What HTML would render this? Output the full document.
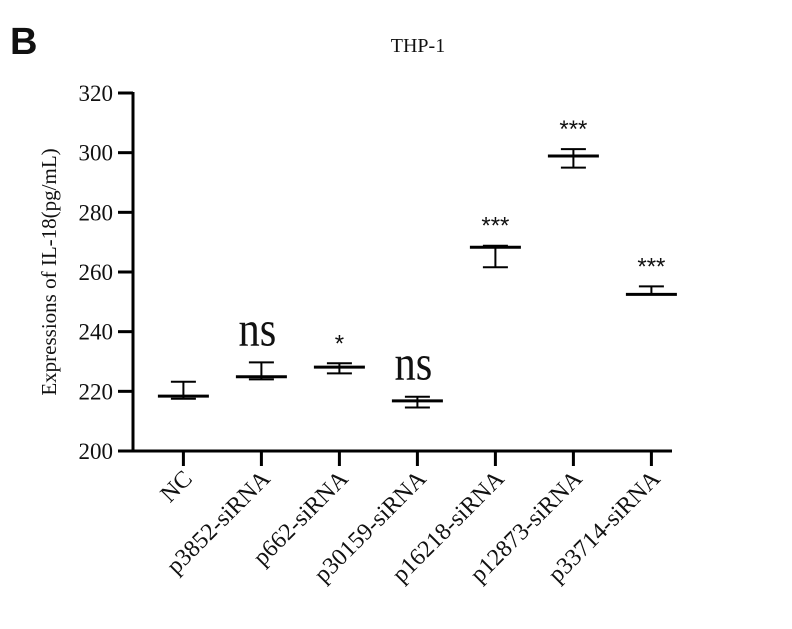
<!DOCTYPE html>
<html><head><meta charset="utf-8"><style>
body{margin:0;background:#fff;}
svg text{font-family:"Liberation Serif",serif;fill:#111;}
</style></head><body>
<svg width="792" height="624" viewBox="0 0 792 624">
<text x="10" y="54" style="font-family:'Liberation Sans',sans-serif;font-weight:bold;font-size:38px">B</text>
<text x="418" y="52" text-anchor="middle" font-size="20">THP-1</text>
<text transform="translate(56,272) rotate(-90)" text-anchor="middle" font-size="21">Expressions of IL-18(pg/mL)</text>
<g id="axes"></g>
<g id="marks"></g>
</svg>
<script>
const categories=["NC","p3852-siRNA","p662-siRNA","p30159-siRNA","p16218-siRNA","p12873-siRNA","p33714-siRNA"];
const means=[218.4,224.9,228.1,216.8,268.3,298.9,252.5];
const upper=[223.2,229.7,229.4,218.2,268.8,301.2,255.2];
const lower=[217.5,224.0,226.0,214.6,261.6,295.0,252.5];
const sig=["","ns","*","ns","***","***","***"];
const yTicks=[200,220,240,260,280,300,320];
const NS="http://www.w3.org/2000/svg";
const x0=133,xEnd=672,yMin=200,yMax=320,yBot=451,yTop=93;
function y(v){return yBot-(v-yMin)/(yMax-yMin)*(yBot-yTop);}
function x(i){return 183.4+i*78;}
function el(t,a,p){const e=document.createElementNS(NS,t);for(const k in a)e.setAttribute(k,a[k]);p.appendChild(e);return e;}
const ax=document.getElementById('axes'),mk=document.getElementById('marks');
const ya=el('line',{x1:x0,y1:yTop-1,x2:x0,y2:yBot+1.5,stroke:'#000','stroke-width':3},ax);


const xa=el('line',{x1:x0-1.5,y1:yBot,x2:xEnd,y2:yBot,stroke:'#000','stroke-width':3},ax);


yTicks.forEach(v=>{
  const t=el('line',{x1:118,y1:y(v),x2:x0,y2:y(v),stroke:'#000','stroke-width':3},ax);
  
  
  const l=el('text',{x:113,y:y(v)+8,'text-anchor':'end','font-size':23},ax);
  l.textContent=v;
  
  
});
categories.forEach((c,i)=>{
  const cx=x(i);
  const t=el('line',{x1:cx,y1:yBot,x2:cx,y2:466,stroke:'#000','stroke-width':3},ax);
  
  
  const l=el('text',{transform:`translate(${cx+10},${480}) rotate(-45)`,'text-anchor':'end','font-size':24},ax);
  l.textContent=c;
  
  
  const g=el('g',{},mk);
  
  
  el('line',{x1:cx,y1:y(upper[i]),x2:cx,y2:y(lower[i]),stroke:'#000','stroke-width':2},g);
  el('line',{x1:cx-12.5,y1:y(upper[i]),x2:cx+12.5,y2:y(upper[i]),stroke:'#000','stroke-width':2},g);
  el('line',{x1:cx-12.5,y1:y(lower[i]),x2:cx+12.5,y2:y(lower[i]),stroke:'#000','stroke-width':2},g);
  const m=el('line',{x1:cx-25.5,y1:y(means[i]),x2:cx+25.5,y2:y(means[i]),stroke:'#000','stroke-width':3},mk);
  
  
  if(sig[i]){
    let s;
    if(sig[i]==='ns'){
      s=el('text',{transform:`translate(${cx-4},${y(upper[i])-17}) scale(0.85,1)`,'text-anchor':'middle','font-size':50},mk);
    }else{
      s=el('text',{x:cx,y:y(upper[i])-12,'text-anchor':'middle','font-size':24,style:"font-family:'Liberation Sans',sans-serif"},mk);
    }
    s.textContent=sig[i];
    
    
  }
});
</script>
</body></html>
